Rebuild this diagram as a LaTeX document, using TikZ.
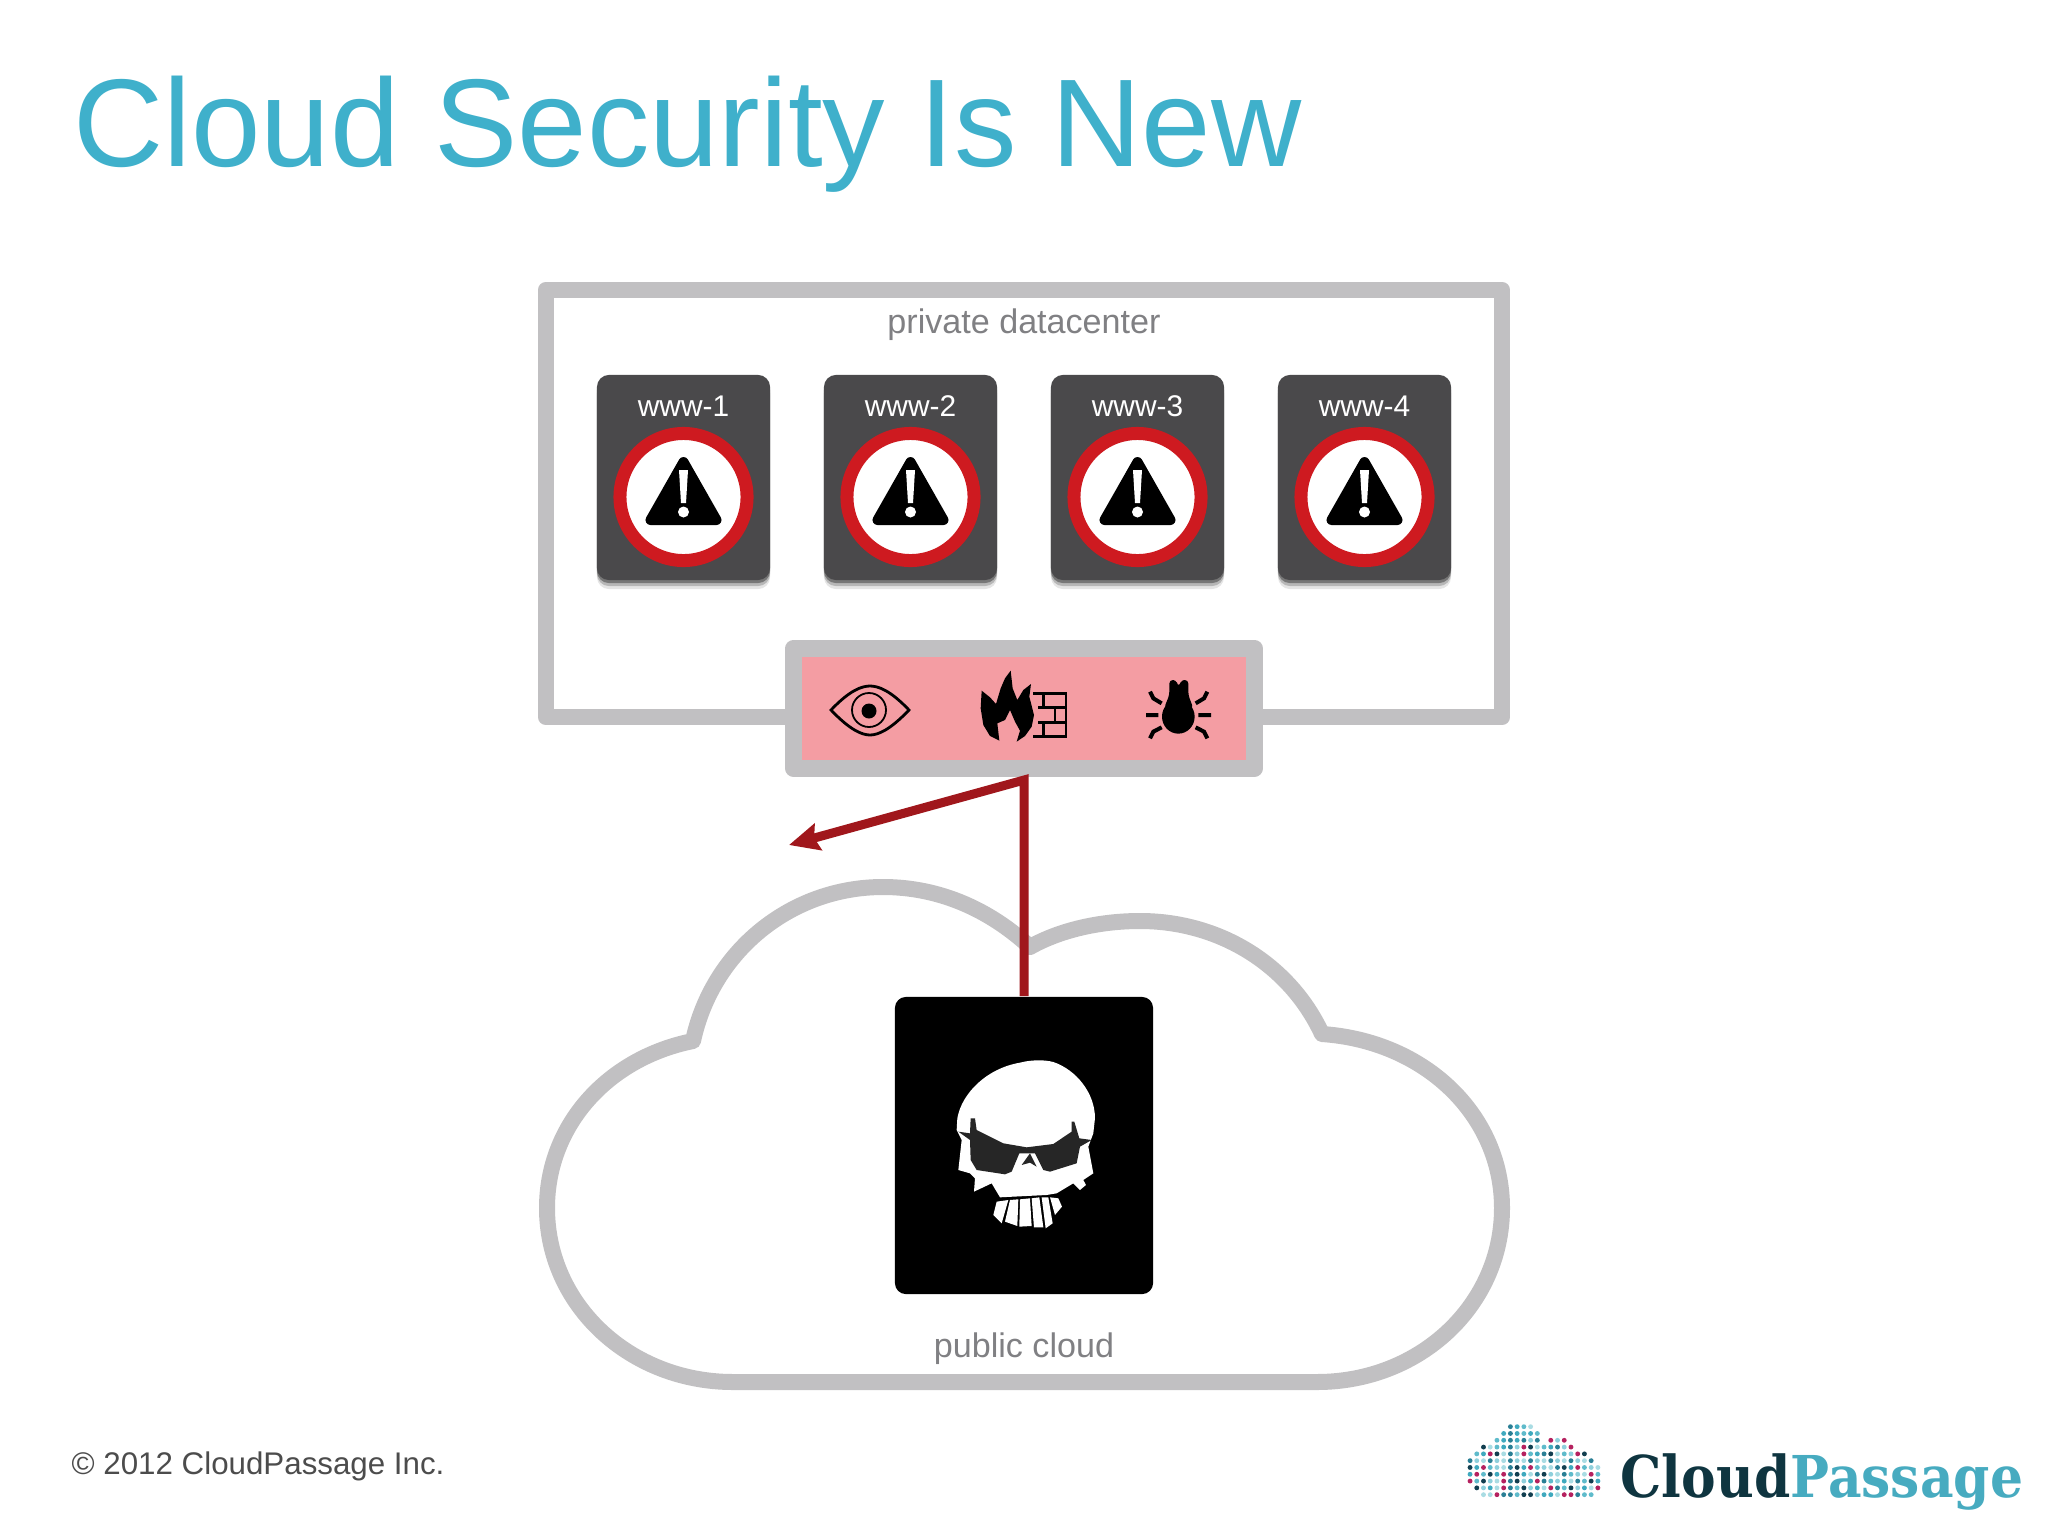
\documentclass[tikz,border=0pt]{standalone}
\usepackage{fontspec}
\setmainfont{Liberation Sans}
\newfontfamily\logofont{DejaVu Serif}
\usetikzlibrary{arrows.meta,shadows}

\definecolor{wallgray}{HTML}{C1C0C2}
\definecolor{labelgray}{HTML}{808083}
\definecolor{cardgray}{HTML}{4A494B}
\definecolor{ringred}{HTML}{CE1A20}
\definecolor{attackred}{HTML}{A0171C}
\definecolor{alarmpink}{HTML}{F49DA3}
\definecolor{titleblue}{HTML}{3FB0CB}
\definecolor{logodark}{HTML}{0F3540}
\definecolor{logoteal}{HTML}{47ABC0}
\definecolor{dot0}{HTML}{3FA9BE}
\definecolor{dot1}{HTML}{8FD0DC}
\definecolor{dot2}{HTML}{123F50}
\definecolor{dot3}{HTML}{5FBBCB}
\definecolor{dot4}{HTML}{2A7F95}
\definecolor{dot5}{HTML}{B5215F}
\definecolor{dot6}{HTML}{A9DCE3}

\tikzset{
	wall/.style={draw=wallgray, line width=0.16cm, line join=round, inner sep=0pt},
	server/.style={fill=cardgray, rounded corners=0.12cm, inner sep=0pt,
		minimum width=1.73cm, minimum height=2.05cm,
		drop shadow={shadow xshift=0cm, shadow yshift=-0.09cm, opacity=0.1, fill=black},
		drop shadow={shadow xshift=0cm, shadow yshift=-0.06cm, opacity=0.2, fill=black},
		drop shadow={shadow xshift=0cm, shadow yshift=-0.03cm, opacity=0.35, fill=black}},
	alert/.style={circle, draw=ringred, fill=white, line width=0.13cm, inner sep=0pt,
		minimum size=1.27cm},
	greytext/.style={text=labelgray, anchor=base, font=\fontsize{9.7}{11}\selectfont},
	attack/.style={draw=attackred, line width=0.09cm,
		-{Stealth[length=0.3cm, width=0.27cm, inset=0.04cm]}},
}

\begin{document}
\begin{tikzpicture}[x=0.01cm, y=-0.01cm]
	\useasboundingbox (0,0) rectangle (2048,1536);

	% title and footer
	\node[text=titleblue, anchor=base west, inner sep=0pt, font=\fontsize{35.5}{40}\selectfont] (title) at (73,166) {Cloud Security Is New};
	\node[text=black!70, anchor=base west, inner sep=0pt, font=\fontsize{8.9}{11}\selectfont] (copyright) at (71,1474) {© 2012 CloudPassage Inc.};

	% private datacenter
	\node[wall, minimum width=9.56cm, minimum height=4.27cm] (datacenter) at (1024,503.5) {};
	\node[greytext] (privatelabel) at (1024,333) {private datacenter};

	% servers
	\foreach \x/\n in {683.5/1,910.5/2,1137.5/3,1364.5/4} {
		\node[server] (www\n) at (\x,477.5) {};
		\node[text=white, anchor=base, font=\fontsize{8.5}{10}\selectfont] (name\n) at (\x,416) {www-\n};
		\node[alert] (alert\n) at (\x,497) {};
		\begin{scope}[shift={(\x,0)}]
			\filldraw[black, line width=0.1cm, line join=round] (0,462) -- (33,520) -- (-33,520) -- cycle;
			\fill[white] (-4.5,470) -- (4.5,470) -- (2.5,503) -- (-2.5,503) -- cycle;
			\fill[white] (0,512) ellipse (5.5 and 5.5);
		\end{scope}
	}

	% public cloud
	\draw[draw=wallgray, line width=0.16cm, line join=round] (733,1382)
		.. controls (630,1382) and (547,1305) .. (547,1208)
		.. controls (547,1125) and (608,1058) .. (693,1041)
		.. controls (712,952) and (790,887) .. (883,887)
		.. controls (940,887) and (990,910) .. (1030,947)
		.. controls (1060,930) and (1100,921) .. (1140,921)
		.. controls (1220,921) and (1290,965) .. (1322,1034)
		.. controls (1425,1041) and (1502,1115) .. (1502,1208)
		.. controls (1502,1305) and (1420,1382) .. (1317,1382)
		-- cycle;
	\node[greytext] (cloudlabel) at (1024,1357) {public cloud};

	% firewall
	\node[wall, line width=0.17cm, fill=alarmpink, minimum width=4.61cm, minimum height=1.195cm] (firewall) at (1024,708.25) {};

	% attacker
	\node[fill=black, rounded corners=0.11cm, inner sep=0pt, minimum width=2.58cm, minimum height=2.97cm] (attacker) at (1024,1145.5) {};
	\coordinate[yshift=-0.035cm] (bounce) at (firewall.south);
	\coordinate (target) at (789,845);
	\draw[attack] (attacker.north) -- (bounce) -- (target);

	% eye
	\draw[black, line width=0.028cm] (831,710) .. controls (850,690) and (862,686) .. (870,686)
		.. controls (878,686) and (890,690) .. (909,710)
		.. controls (890,730) and (878,735) .. (870,735)
		.. controls (862,735) and (850,730) .. (831,710) -- cycle;
	\draw[black, line width=0.018cm] (869,710) ellipse (17 and 17);
	\fill[black] (869,711) ellipse (7.5 and 7.5);

	% flame and bricks
	\begin{scope}[shift={(960,660)}, scale=0.3333]
		\fill[black] (65,92) -- (90,112) -- (108,132) -- (122,85) -- (135,55) -- (152,32)
			-- (158,85) -- (172,120) -- (190,90) -- (213,72) -- (208,110) -- (222,165)
			-- (215,200) -- (195,228) -- (170,245) -- (180,212) -- (165,185) -- (150,150)
			-- (135,180) -- (112,190) -- (118,242) -- (90,228) -- (70,195) -- (62,145) -- cycle;
		\draw[black, line width=0.025cm] (220,100) -- (318,100) -- (318,230) -- (218,230)
			(235,143) -- (318,143) (235,187) -- (318,187)
			(250,100) -- (250,143) (285,143) -- (285,187) (250,187) -- (250,230);
	\end{scope}

	% bug
	\begin{scope}[shift={(1130,670)}, scale=0.3333]
		\fill[black] (145,140) ellipse (49 and 51);
		\fill[black, rounded corners=0.035cm] (102,115) -- (118,75) -- (118,30) -- (140,30) -- (140,46) -- (152,46) -- (152,30) -- (175,30) -- (175,75) -- (190,115) -- cycle;
		\draw[black, line width=0.04cm]
			(60,65) -- (70,85) -- (95,100) (48,135) -- (85,135) (60,205) -- (70,185) -- (95,172)
			(232,65) -- (222,85) -- (197,100) (243,135) -- (205,135) (232,205) -- (222,185) -- (197,172);
	\end{scope}

	% skull
	\begin{scope}[shift={(880,990)}, scale=0.3333]
		\fill[white] (232,385) .. controls (245,310) and (320,235) .. (420,218)
			.. controls (450,210) and (490,208) .. (520,216)
			.. controls (590,240) and (645,310) .. (645,385)
			-- (640,430) -- (625,470) -- (640,550) -- (610,570) -- (618,585) -- (600,600)
			-- (580,580) -- (530,610) -- (500,615) -- (360,622) -- (335,580) -- (282,605)
			-- (285,565) -- (270,550) -- (235,540) -- (245,450) -- (230,420) -- cycle;
		\fill[black!85] (272,385) -- (285,385) -- (290,420) -- (370,460) -- (440,472) -- (520,462)
			-- (575,425) -- (575,395) -- (583,395) -- (598,445) -- (635,450) -- (600,470)
			-- (590,520) -- (510,545) -- (490,540) -- (465,490) -- (418,490) -- (395,545)
			-- (375,553) -- (290,540) -- (272,510) -- (270,450) -- (235,425) -- (270,430) -- cycle;
		\fill[black!85] (450,490) -- (470,530) -- (450,518) -- (425,525) -- cycle;
		% teeth
		\fill[white] (350,635) -- (385,630) -- (365,700) -- (340,675) -- cycle;
		\fill[white] (390,630) -- (415,628) -- (412,708) -- (375,695) -- cycle;
		\fill[white] (420,628) -- (450,625) -- (455,708) -- (418,710) -- cycle;
		\fill[white] (455,625) -- (478,622) -- (490,712) -- (462,712) -- cycle;
		\fill[white] (485,622) -- (505,622) -- (518,700) -- (497,715) -- cycle;
		\fill[white] (510,622) -- (535,625) -- (546,650) -- (525,675) -- cycle;
	\end{scope}

	% logo dots
	\begin{scope}[shift={(1450,1410)}, xscale=0.378, yscale=0.3333]
		\foreach \r/\a/\b in {0/6/9,1/5/10,2/4/10,2/12/14,3/2/15,4/1/17,5/0/18,6/0/19,7/0/19,8/0/19,9/1/19,10/2/18}
			\foreach \c in {\a,...,\b} {
				\pgfmathtruncatemacro{\k}{mod(\c*3+\r*5+int(\c*\r/3),7)}
				\fill[dot\k] ({53+17.8*\c},{50+20.4*\r}) ellipse (6.5 and 7.3);
			}
	\end{scope}

	% logo text
	\node[anchor=base west, inner sep=0pt, xscale=0.9, font=\logofont\bfseries\fontsize{16.4}{20}\selectfont] (logo) at (1620,1497) {\textcolor{logodark}{Cloud}\textcolor{logoteal}{Passage}};
\end{tikzpicture}
\end{document}
